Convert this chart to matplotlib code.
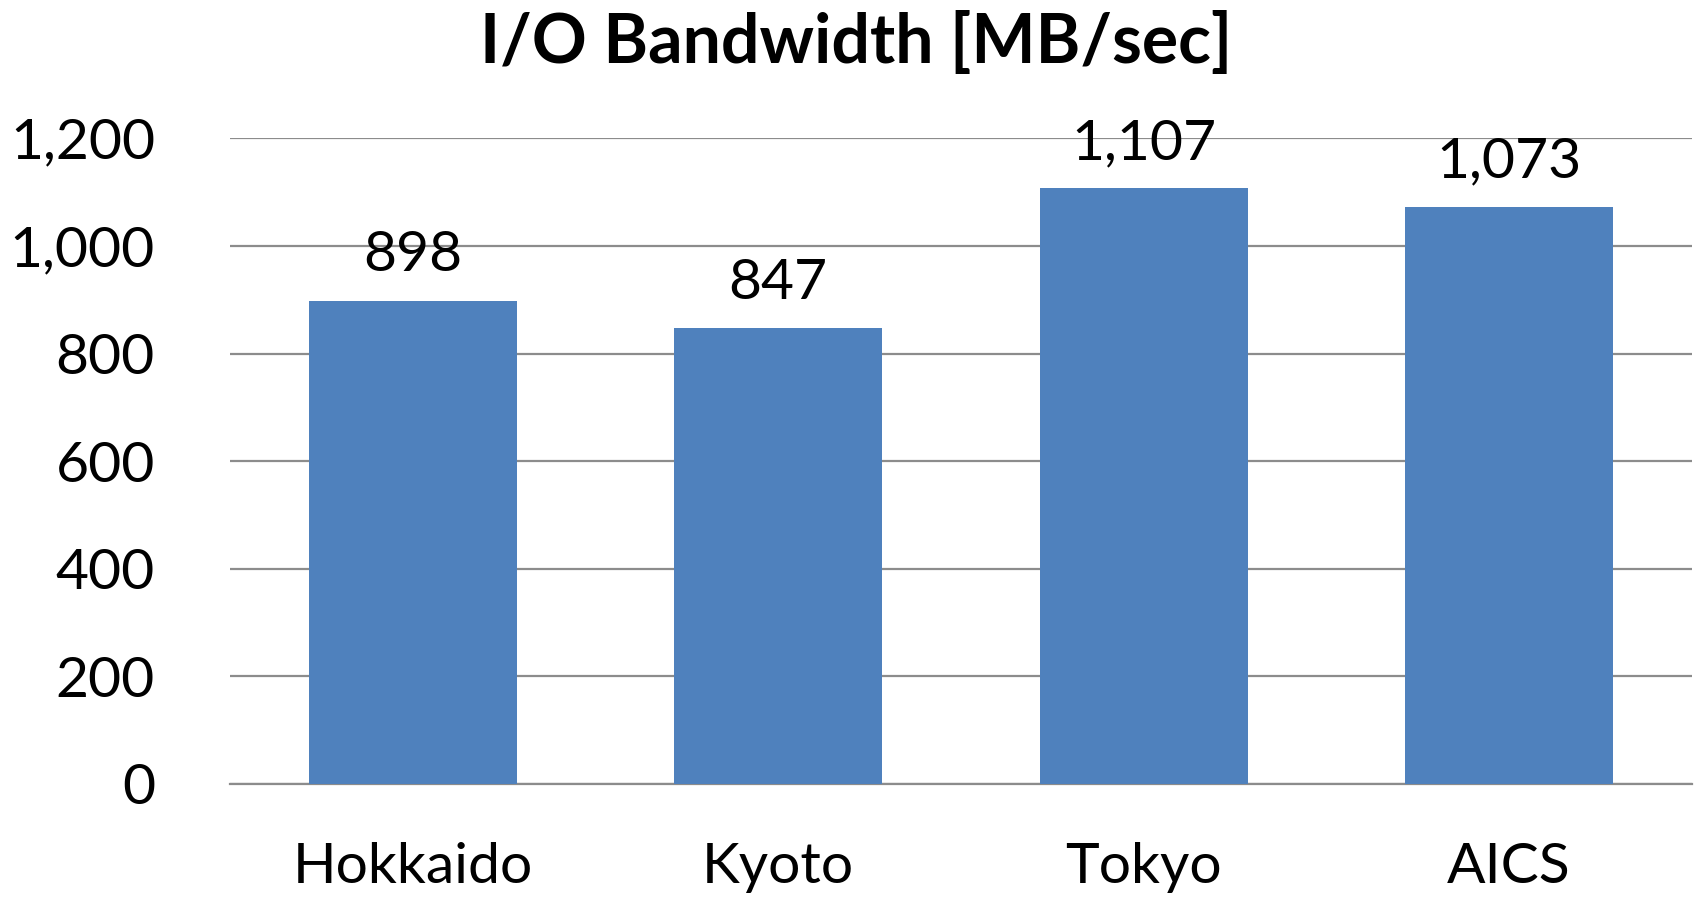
import matplotlib.pyplot as plt
from matplotlib.ticker import FuncFormatter

sites = ["Hokkaido", "Kyoto", "Tokyo", "AICS"]
bandwidth = [898, 847, 1107, 1073]
yticks = [0, 200, 400, 600, 800, 1000, 1200]

plt.rcParams["font.family"] = ["Lato", "DejaVu Sans"]

fig = plt.figure(figsize=(16.96, 8.98), dpi=100)
ax = fig.add_axes([0.1356, 0.127, 0.862, 0.719])

x = range(len(sites))
ax.bar(x, bandwidth, width=0.57, color="#4F81BD", zorder=3)
for xi, v in zip(x, bandwidth):
    ax.text(xi, v + 36, f"{v:,}", ha="center", va="bottom", fontsize=41)

ax.set_xlim(-0.5, len(sites) - 0.5)
ax.set_ylim(0, 1200)
ax.set_yticks(yticks)
ax.yaxis.set_major_formatter(FuncFormatter(lambda v, p: f"{int(v):,}"))
ax.set_xticks(list(x))
ax.set_xticklabels(sites)
ax.tick_params(axis="both", length=0, labelsize=41)
ax.tick_params(axis="x", pad=42)
ax.tick_params(axis="y", pad=54)
for lab in ax.get_yticklabels():
    lab.set_horizontalalignment("right")

ax.grid(axis="y", color="#8C8C8C", linewidth=1.6, zorder=0)
for s in ["top", "right", "left"]:
    ax.spines[s].set_visible(False)
ax.spines["bottom"].set_color("#8C8C8C")
ax.spines["bottom"].set_linewidth(1.6)

fig.suptitle("I/O Bandwidth [MB/sec]", fontsize=49, fontweight="bold",
             x=0.505, y=0.952, va="center")

fig.savefig("out.png", dpi=100)
